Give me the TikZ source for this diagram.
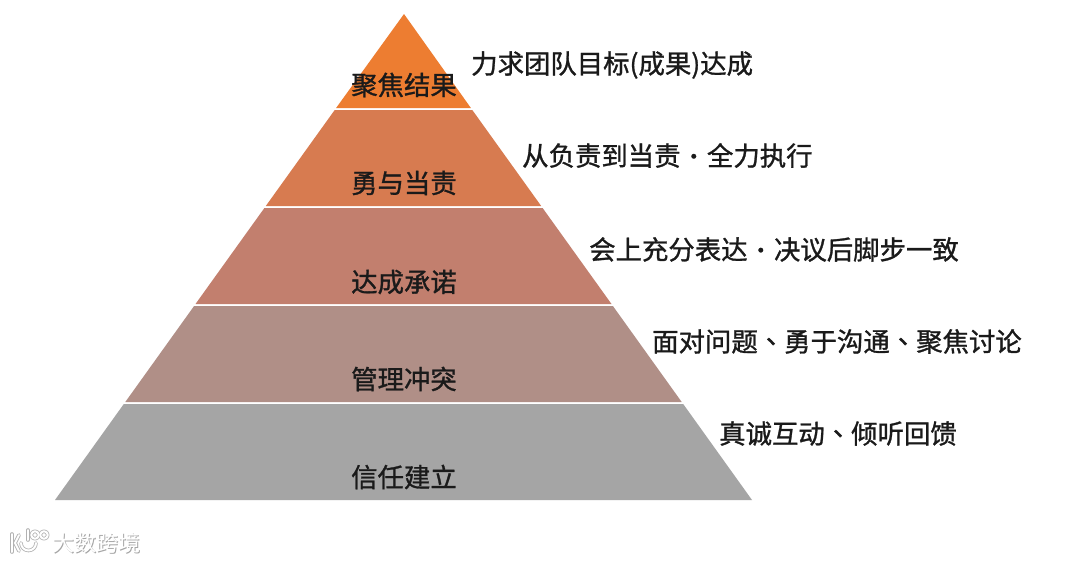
\documentclass[tikz,border=0pt]{standalone}
\usepackage{fontspec}
\setmainfont[FakeBold=1.1]{Noto Sans CJK SC}
\newfontfamily\tcfont[FakeBold=1.1]{Noto Sans CJK TC}
\newfontfamily\markfont{Noto Sans CJK SC}
\definecolor{bandA}{HTML}{ED7D31}
\definecolor{bandB}{HTML}{D77B50}
\definecolor{bandC}{HTML}{C27F6E}
\definecolor{bandD}{HTML}{B08F87}
\definecolor{bandE}{HTML}{A5A5A5}
\definecolor{ink}{HTML}{1A1A1A}
\newcommand{\dun}{{\tcfont 、}}
\newcommand{\middot}{\hbox to 26.4pt{\hss\fontsize{22}{22}\selectfont\raisebox{1pt}{・}\hss}}
\tikzset{
  band/.style={draw=none},
  lvl/.style={font=\fontsize{26.4}{26.4}\selectfont, text=ink, inner sep=0pt, anchor=center},
  note/.style={font=\fontsize{26.4}{26.4}\selectfont, text=ink, inner sep=0pt, anchor=west},
  markshade/.style={font=\markfont\fontsize{22}{22}\selectfont, text=black!35, inner sep=0pt, anchor=west},
  markface/.style={font=\markfont\fontsize{22}{22}\selectfont, text=white, inner sep=0pt, anchor=west},
  logoshade/.style={draw=black!30, line width=3.6pt, line cap=round, line join=round},
  logoface/.style={draw=white, line width=2pt, line cap=round, line join=round}
}
\begin{document}
\begin{tikzpicture}[x=1pt,y=-1pt]
\useasboundingbox[fill=white] (0,0) rectangle (1080,562);
\fill[band,bandA] (404,14) -- (470.9,108) -- (336.1,108) -- cycle;
\fill[band,bandB] (334.7,110) -- (472.3,110) -- (541.2,206) -- (265.8,206) -- cycle;
\fill[band,bandC] (264.4,208) -- (542.6,208) -- (611.5,304) -- (195.5,304) -- cycle;
\fill[band,bandD] (194.1,306) -- (612.9,306) -- (681.7,402) -- (125.3,402) -- cycle;
\fill[band,bandE] (123.8,404) -- (683.2,404) -- (752,500) -- (55,500) -- cycle;
\node[lvl] (l1) at (404,85) {聚焦结果};
\node[lvl] (l2) at (404,183) {勇与当责};
\node[lvl] (l3) at (404,282) {达成承诺};
\node[lvl] (l4) at (404,379) {管理冲突};
\node[lvl] (l5) at (404,477) {信任建立};
\node[note] (n1) at (471,65) {力求团队目标(成果)达成};
\node[note] (n2) at (522,155.5) {从负责到当责\middot 全力执行};
\node[note] (n3) at (589,249.5) {会上充分表达\middot 决议后脚步一致};
\node[note] (n4) at (652,341.5) {面对问题\dun 勇于沟通\dun 聚焦讨论};
\node[note] (n5) at (719,433.5) {真诚互动\dun 倾听回馈};
% watermark
\foreach \s in {logoshade,logoface}{
  \draw[\s] (12,534) -- (12,552);
  \draw[\s] (19,535) -- (15,543) -- (19,551);
  \draw[\s] (21,543) arc (180:0:7.5);
  \draw[\s] (28,530) -- (28,540);
  \draw[\s] (35,535) circle (3.8);
  \draw[\s] (44,535) circle (3.8);
}
\node[markshade] (wmshade) at (52.8,543.8) {大数跨境};
\node[markface] (wm) at (52,543) {大数跨境};
\end{tikzpicture}
\end{document}
